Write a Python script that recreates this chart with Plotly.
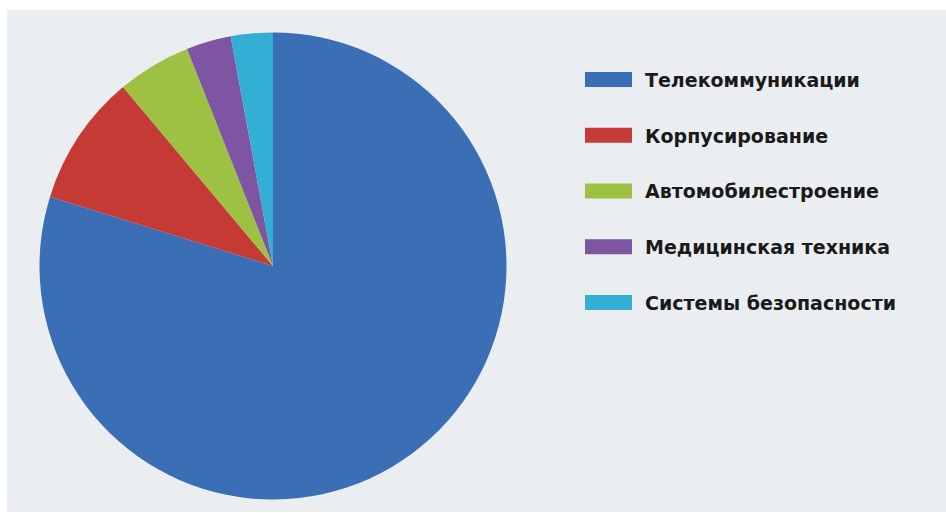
import plotly.graph_objects as go

# Data
labels = ["Телекоммуникации", "Корпусирование", "Автомобилестроение",
          "Медицинская техника", "Системы безопасности"]
values = [79.8, 9.1, 5.1, 3.1, 2.9]
colors = ["#3A6EB5", "#C53A35", "#9DC243", "#7D55A2", "#33AFD5"]

W, H = 946, 513
def px_x(x):
    return x / W
def px_y(y):
    return 1 - y / H

cx, cy, r = 273, 266, 233.5

fig = go.Figure(go.Pie(
    labels=labels, values=values, sort=False, direction="clockwise", rotation=0,
    marker=dict(colors=colors, line=dict(width=0)),
    textinfo="none", hoverinfo="label+percent", showlegend=False,
    domain=dict(x=[px_x(cx - r), px_x(cx + r)], y=[px_y(cy + r), px_y(cy - r)]),
))

shapes = [dict(type="rect", xref="paper", yref="paper", layer="below",
               x0=px_x(7), x1=px_x(946), y0=px_y(512), y1=px_y(10),
               fillcolor="#EBEEF1", line=dict(width=0))]
annotations = []
y0, step = 79.5, 55.75
for i, (lab, col) in enumerate(zip(labels, colors)):
    yc = y0 + i * step
    shapes.append(dict(type="rect", xref="paper", yref="paper",
                       x0=px_x(585), x1=px_x(632), y0=px_y(yc + 7.5), y1=px_y(yc - 7.5),
                       fillcolor=col, line=dict(width=0)))
    annotations.append(dict(text=lab, xref="paper", yref="paper", x=px_x(643), y=px_y(yc + 0.5),
                            xanchor="left", yanchor="middle", showarrow=False,
                            font=dict(family="DejaVu Sans", size=19, color="#1a1a1a", weight="bold")))

fig.update_layout(
    width=W, height=H, margin=dict(l=0, r=0, t=0, b=0),
    paper_bgcolor="white", plot_bgcolor="white",
    shapes=shapes, annotations=annotations,
)
fig.write_html("out.html")
